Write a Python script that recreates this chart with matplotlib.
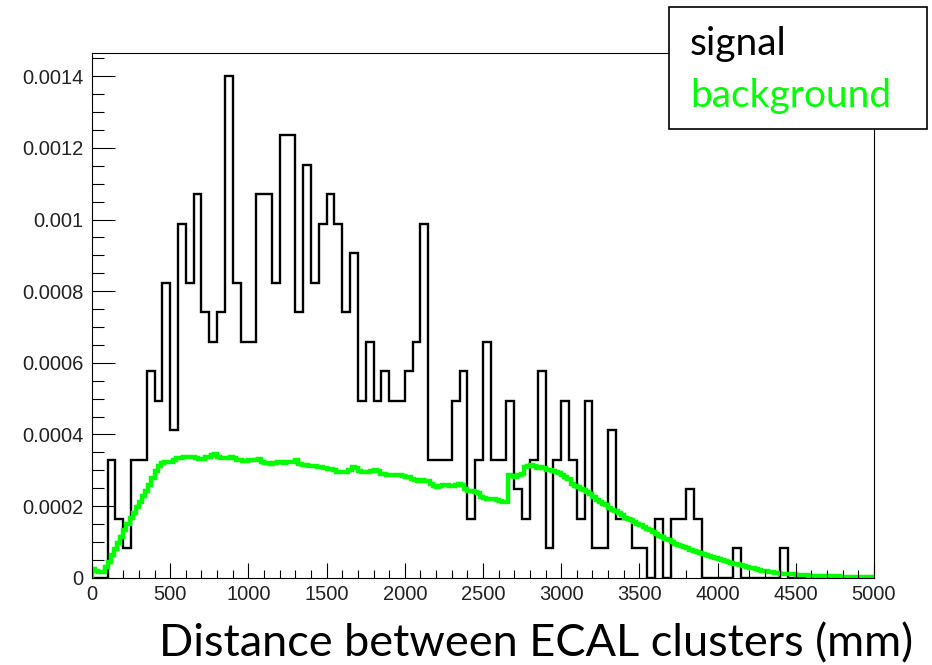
import numpy as np
import matplotlib.pyplot as plt
from matplotlib.patches import Rectangle
from matplotlib.ticker import MultipleLocator

# signal: entries per 50 mm bin (0..5000 mm), one entry = tallest bin / 17
signal_counts = [
    0, 0, 4, 2, 1, 4, 4, 7, 6, 10,
    5, 12, 10, 13, 9, 8, 9, 17, 10, 8,
    8, 13, 13, 10, 15, 15, 9, 14, 10, 12,
    13, 12, 9, 11, 6, 8, 6, 7, 6, 6,
    7, 8, 12, 4, 4, 4, 6, 7, 2, 4,
    8, 4, 4, 6, 3, 2, 4, 7, 1, 4,
    6, 4, 2, 6, 1, 1, 5, 2, 2, 1,
    1, 0, 2, 0, 2, 2, 3, 2, 0, 0,
    0, 0, 1, 0, 0, 0, 0, 0, 1, 0,
    0, 0, 0, 0, 0, 0, 0, 0, 0, 0,
]
signal_unit = 0.0014 / 17

# background: 20 mm bins, values in units of 1e-4
background = [
    0.25, 0.18, 0.17, 0.16, 0.30, 0.45, 0.62, 0.80, 0.98, 1.15,
    1.32, 1.50, 1.66, 1.82, 1.98, 2.12, 2.27, 2.42, 2.60, 2.78,
    2.98, 3.12, 3.20, 3.22, 3.24, 3.22, 3.28, 3.34, 3.35, 3.36,
    3.36, 3.36, 3.36, 3.35, 3.31, 3.32, 3.38, 3.38, 3.44, 3.45,
    3.36, 3.33, 3.33, 3.35, 3.36, 3.34, 3.29, 3.28, 3.26, 3.26,
    3.28, 3.28, 3.30, 3.31, 3.24, 3.20, 3.19, 3.18, 3.20, 3.22,
    3.22, 3.20, 3.22, 3.24, 3.22, 3.30, 3.18, 3.15, 3.14, 3.13,
    3.13, 3.12, 3.10, 3.08, 3.06, 3.04, 3.03, 3.00, 2.94, 2.94,
    2.95, 2.94, 3.02, 3.08, 3.06, 2.98, 2.96, 2.96, 2.95, 2.99,
    3.01, 2.98, 2.90, 2.89, 2.88, 2.87, 2.86, 2.87, 2.86, 2.84,
    2.82, 2.81, 2.76, 2.72, 2.71, 2.72, 2.70, 2.69, 2.62, 2.55,
    2.54, 2.57, 2.59, 2.58, 2.56, 2.55, 2.58, 2.62, 2.60, 2.47,
    2.43, 2.42, 2.38, 2.36, 2.26, 2.22, 2.21, 2.19, 2.19, 2.17,
    2.13, 2.12, 2.11, 2.87, 2.84, 2.80, 2.86, 2.90, 3.08, 3.13,
    3.14, 3.11, 3.07, 3.08, 3.06, 3.02, 3.01, 2.99, 2.94, 2.92,
    2.88, 2.80, 2.76, 2.62, 2.56, 2.52, 2.48, 2.45, 2.38, 2.33,
    2.24, 2.17, 2.12, 2.07, 2.02, 1.95, 1.89, 1.86, 1.80, 1.74,
    1.68, 1.64, 1.60, 1.55, 1.50, 1.46, 1.41, 1.37, 1.32, 1.27,
    1.22, 1.17, 1.13, 1.08, 1.04, 1.00, 0.95, 0.91, 0.88, 0.85,
    0.82, 0.78, 0.75, 0.72, 0.69, 0.66, 0.63, 0.61, 0.58, 0.55,
    0.52, 0.49, 0.47, 0.44, 0.42, 0.39, 0.37, 0.35, 0.33, 0.30,
    0.28, 0.26, 0.24, 0.22, 0.20, 0.18, 0.17, 0.15, 0.14, 0.12,
    0.11, 0.10, 0.10, 0.09, 0.09, 0.08, 0.08, 0.07, 0.07, 0.06,
    0.06, 0.06, 0.05, 0.05, 0.05, 0.05, 0.04, 0.04, 0.04, 0.03,
    0.03, 0.03, 0.03, 0.03, 0.03, 0.03, 0.03, 0.03, 0.03, 0.03,
]

x_ticks = [0, 500, 1000, 1500, 2000, 2500, 3000, 3500, 4000, 4500, 5000]
y_ticks = [0, 0.0002, 0.0004, 0.0006, 0.0008, 0.001, 0.0012, 0.0014]
y_labels = ['0', '0.0002', '0.0004', '0.0006', '0.0008', '0.001', '0.0012', '0.0014']

plt.rcParams['font.family'] = ['Liberation Sans', 'DejaVu Sans']

fig = plt.figure(figsize=(9.32, 6.65), dpi=100)
ax = fig.add_axes([92 / 932, 1 - 577.7 / 665, 782 / 932, 525 / 665])

sig_edges = np.linspace(0, 5000, len(signal_counts) + 1)
bkg_edges = np.linspace(0, 5000, len(background) + 1)
ax.stairs(np.array(signal_counts) * signal_unit, sig_edges, color='black', lw=1.7)
ax.stairs(np.array(background) * 1e-4, bkg_edges, color='#00ff00', lw=3.2)

ax.set_xlim(0, 5000)
ax.set_ylim(0, 0.001466)
ax.set_xticks(x_ticks)
ax.set_xticklabels([str(v) for v in x_ticks])
ax.set_yticks(y_ticks)
ax.set_yticklabels(y_labels)
ax.xaxis.set_minor_locator(MultipleLocator(100))
ax.yaxis.set_minor_locator(MultipleLocator(0.00005))

ax.tick_params(which='both', direction='in', top=False, right=False,
               width=0.8, color='black', labelcolor='#222222')
ax.tick_params(axis='x', which='major', length=11, labelsize=14.5, pad=5)
ax.tick_params(axis='x', which='minor', length=5.5)
ax.tick_params(axis='y', which='major', length=16.8, labelsize=14.5, pad=6)
ax.tick_params(axis='y', which='minor', length=8.9)
for s in ax.spines.values():
    s.set_linewidth(0.8)
    s.set_color('black')

# legend box drawn by hand, on top of the frame
box = Rectangle((669.3 / 932, 1 - 129.3 / 665), 258 / 932, 122.6 / 665,
                transform=fig.transFigure, facecolor='white',
                edgecolor='black', lw=1.2, zorder=10)
fig.add_artist(box)
fig.text(690 / 932, 1 - 55 / 665, 'signal', fontsize=28, color='black',
         family=['Lato', 'DejaVu Sans'], va='baseline', zorder=11)
fig.text(690 / 932, 1 - 107.3 / 665, 'background', fontsize=28, color='#00ff00',
         family=['Lato', 'DejaVu Sans'], va='baseline', zorder=11)

fig.text(536 / 932, 1 - 656.7 / 665, 'Distance between ECAL clusters (mm)',
         fontsize=32.5, family=['Lato', 'DejaVu Sans'], ha='center', va='baseline')

fig.savefig('out.png', dpi=100)
